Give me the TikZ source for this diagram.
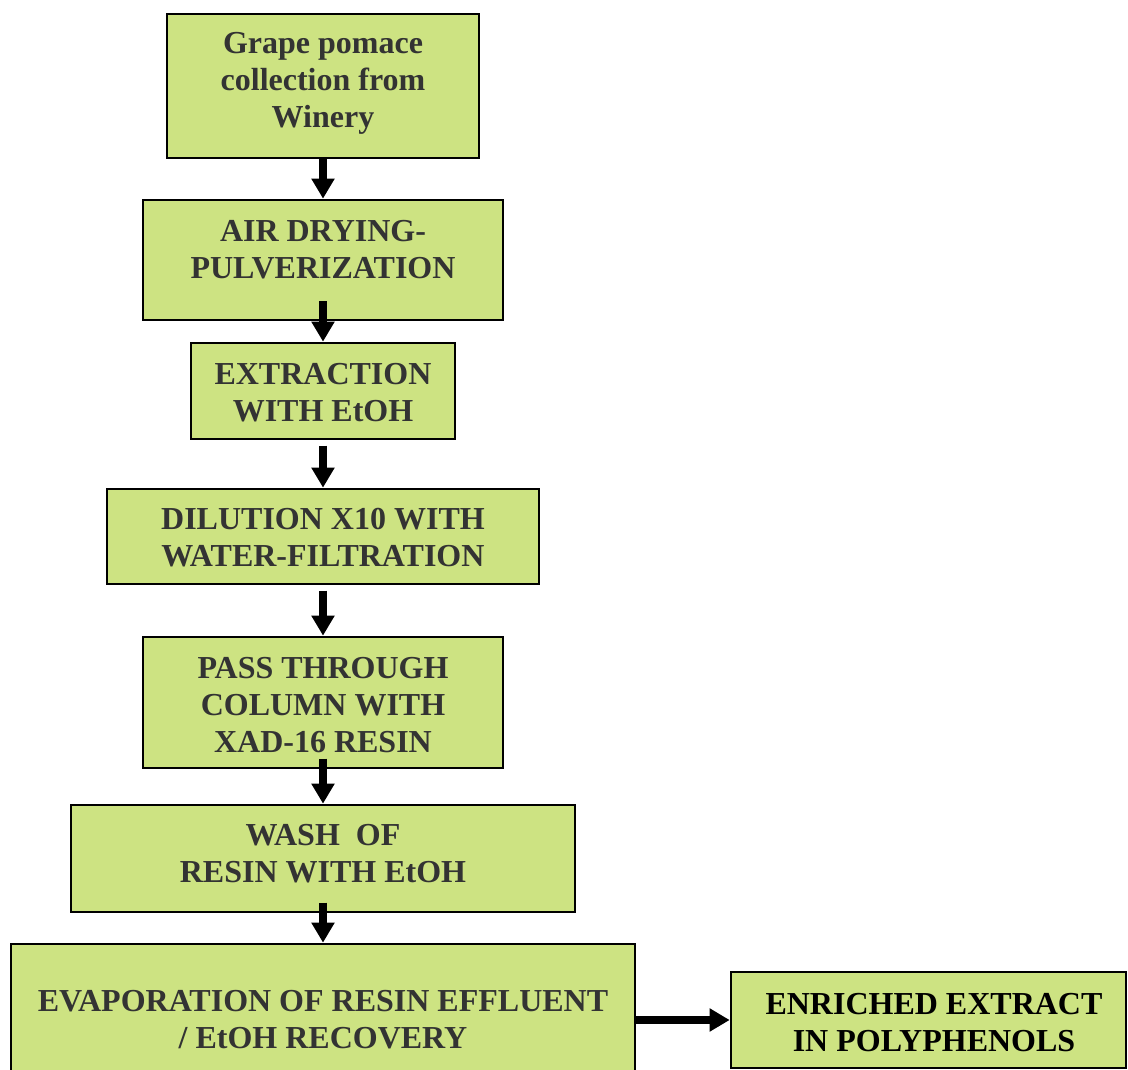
\documentclass[tikz,border=0pt]{standalone}
\usepackage{fontspec}
\setmainfont{Liberation Serif}
\usetikzlibrary{arrows.meta,calc}
\definecolor{boxfill}{RGB}{205,227,130}
\definecolor{txtgray}{RGB}{51,51,51}
\tikzset{
  box/.style={draw=black,line width=2pt,fill=boxfill,rectangle,inner sep=0pt},
  txt/.style={align=center,inner sep=0pt,text=txtgray,font=\fontsize{24pt}{27.75pt}\selectfont\bfseries},
  conn/.style={line width=5.8pt,-{Triangle[length=15pt,width=16.5pt]}},
}
\begin{document}
\begin{tikzpicture}[x=0.75pt,y=-0.75pt]
\useasboundingbox (0,0) rectangle (1128,1070);
% boxes
\node[box,minimum width=312*0.75pt,minimum height=144*0.75pt] (b1) at (323,86) {};
\node[box,minimum width=360*0.75pt,minimum height=120*0.75pt] (b2) at (323,260) {};
\node[box,minimum width=264*0.75pt,minimum height=96*0.75pt] (b3) at (323,391) {};
\node[box,minimum width=432*0.75pt,minimum height=95*0.75pt] (b4) at (323,536.5) {};
\node[box,minimum width=360*0.75pt,minimum height=131*0.75pt] (b5) at (323,702.5) {};
\node[box,minimum width=504*0.75pt,minimum height=107*0.75pt] (b6) at (323,858.5) {};
\node[box,minimum width=624*0.75pt,minimum height=134*0.75pt] (b7) at (323,1011) {};
\node[box,minimum width=395*0.75pt,minimum height=96*0.75pt] (b8) at (928.5,1020) {};
% texts
\node[txt] (t1) at (323,83) {Grape pomace\\collection from\\Winery};
\node[txt] (t2) at (323,250) {AIR DRYING-\\PULVERIZATION};
\node[txt] (t3) at (323,393) {EXTRACTION\\WITH EtOH};
\node[txt] (t4) at (323,538) {DILUTION X10 WITH\\WATER-FILTRATION};
\node[txt] (t5) at (323,705) {PASS THROUGH\\COLUMN WITH\\XAD-16 RESIN};
\node[txt] (t6) at (323,854) {WASH\ \ OF\\RESIN WITH EtOH};
\node[txt] (t7) at (323,1020) {EVAPORATION OF RESIN EFFLUENT\\/ EtOH RECOVERY};
\node[txt,text=black] (t8) at (934,1023) {ENRICHED EXTRACT\\IN POLYPHENOLS};
% connectors
\draw[conn] (b1.south) -- (b2.north);
\draw[conn] ([yshift=15pt]b2.south) -- (b3.north);
\draw[conn] ([yshift=-4pt]b3.south) -- (b4.north);
\draw[conn] ([yshift=-4pt]b4.south) -- (b5.north);
\draw[conn] ([yshift=8pt]b5.south) -- (b6.north);
\draw[conn] ([yshift=8pt]b6.south) -- (b7.north);
\draw[conn] (b8.west -| b7.east) -- (b8.west);
\end{tikzpicture}
\end{document}
